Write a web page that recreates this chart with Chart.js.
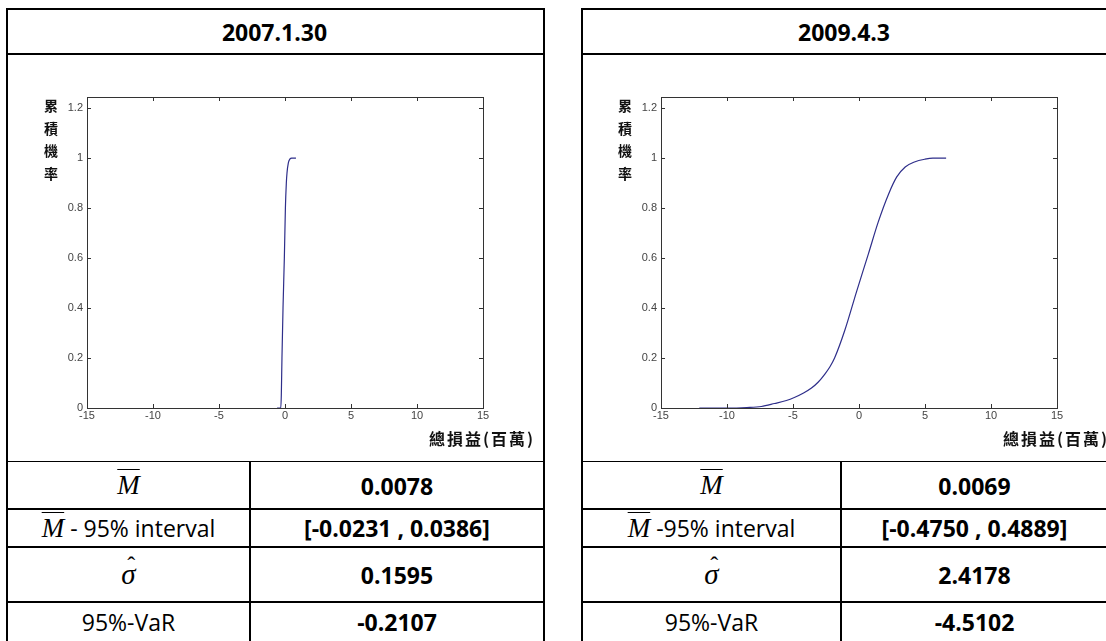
<!DOCTYPE html>
<html>
<head>
<meta charset="utf-8">
<script src="https://cdn.jsdelivr.net/npm/chart.js@4/dist/chart.umd.min.js"></script>
<style>
body { margin:0; background:#fff; width:1106px; height:641px; overflow:hidden; position:relative; }
.ln { position:absolute; background:#000; }
.cell { position:absolute; display:flex; align-items:center; justify-content:center; font-family:"Open Sans","Noto Sans",sans-serif; font-size:23px; color:#000; white-space:nowrap; }
.b { font-weight:700; }
.mm { font-family:"Liberation Serif",serif; font-style:italic; font-size:27px; text-decoration:overline; text-decoration-thickness:1px; }
.sg { position:relative; display:inline-block; font-family:"Liberation Serif",serif; font-style:italic; font-size:29px; }
.sg .hat { position:absolute; left:6px; top:-6px; font-style:normal; font-size:24px; }
.ylab { position:absolute; width:16px; font-family:"Noto Sans CJK TC",sans-serif; font-weight:700; font-size:14px; line-height:22.5px; text-align:center; color:#111; }
.xlab { position:absolute; font-family:"Noto Sans CJK TC",sans-serif; font-weight:700; font-size:16px; letter-spacing:2px; color:#111; white-space:nowrap; }
canvas { position:absolute; }
</style>
</head>
<body>
<canvas id="c2007" width="530" height="404" style="left:10px;top:56px;width:530px;height:404px"></canvas>
<canvas id="c2009" width="530" height="404" style="left:584px;top:56px;width:530px;height:404px"></canvas>
<script>
// axis ticks
var xTicks = [-15, -10, -5, 0, 5, 10, 15];
var yTicks = [0, 0.2, 0.4, 0.6, 0.8, 1, 1.2];

// 2007.1.30 cumulative curve
var x2007 = [-0.6, -0.32, -0.28, -0.23, -0.15, -0.05, 0.03, 0.1, 0.15, 0.25, 0.38, 0.5, 0.83];
var y2007 = [0, 0, 0.05, 0.2, 0.4, 0.6, 0.8, 0.9, 0.94, 0.98, 0.997, 1, 1];

// 2009.4.3 cumulative curve
var x2009 = [-12.1, -10, -8.5, -7.4, -6.4, -5.5, -4.9, -4.2, -3.6, -3.1, -2.6, -2.2, -1.85, -1.08, -0.19, 0.7, 1.46, 2.23, 2.86, 3.5, 4.2, 5.0, 5.6, 6.6];
var y2009 = [0, 0, 0.002, 0.006, 0.018, 0.03, 0.042, 0.06, 0.08, 0.103, 0.135, 0.165, 0.2, 0.31, 0.465, 0.615, 0.745, 0.855, 0.925, 0.965, 0.985, 0.996, 1, 1];

// table text
var titles = ["2007.1.30", "2009.4.3"];
var stat2007 = ["0.0078", "[-0.0231 , 0.0386]", "0.1595", "-0.2107"];
var stat2009 = ["0.0069", "[-0.4750 , 0.4889]", "2.4178", "-4.5102"];
var intervalText = [" - 95% interval", " -95% interval"];

function line(x, y, w, h) {
	var d = document.createElement("div");
	d.className = "ln";
	d.style.left = x + "px"; d.style.top = y + "px";
	d.style.width = w + "px"; d.style.height = h + "px";
	document.body.appendChild(d);
}

function cell(x, y, w, h, html, cls) {
	var d = document.createElement("div");
	d.className = "cell " + (cls || "");
	d.style.left = x + "px"; d.style.top = y + "px";
	d.style.width = w + "px"; d.style.height = h + "px";
	d.innerHTML = html;
	document.body.appendChild(d);
}

function BuildTable(left, right, mid, t, stats) {
	var rows = [461, 508, 546, 601, 641];
	line(left, 8, right - left + 2, 2);
	line(left, 53, right - left + 2, 2);
	line(left, 461, right - left + 2, 1);
	line(left, 508, right - left + 2, 2);
	line(left, 546, right - left + 2, 2);
	line(left, 601, right - left + 2, 2);
	line(left, 8, 2, 633);
	line(right, 8, 2, 633);
	line(mid, 461, 2, 180);
	cell(left, 10, right - left, 43, titles[t], "b");
	var labels = [
		'<span class="mm">M</span>',
		'<span class="mm">M</span><span>' + intervalText[t].replace(/ /g, "&nbsp;") + '</span>',
		'<span class="sg">&sigma;<span class="hat">&#710;</span></span>',
		'95%-VaR'
	];
	for (var i = 0; i < 4; i++) {
		var top = rows[i] + 2, h = rows[i + 1] - rows[i] - 2;
		cell(left + 2, top, mid - left - 2, h, labels[i]);
		cell(mid + 2, top, right - mid - 2, h, stats[i], "b");
	}
}

function AxisLabels(axLeft, axRight) {
	var y = document.createElement("div");
	y.className = "ylab";
	y.style.left = (axLeft - 44) + "px";
	y.style.top = "94px";
	y.textContent = "累積機率";
	document.body.appendChild(y);
	var x = document.createElement("div");
	x.className = "xlab";
	x.style.left = (axRight - 54) + "px";
	x.style.top = "426px";
	x.textContent = "總損益(百萬)";
	document.body.appendChild(x);
}

BuildTable(6, 543, 249, 0, stat2007);
BuildTable(581, 1107, 840, 1, stat2009);
AxisLabels(87, 483);
AxisLabels(661, 1057);

// box round the plot with inward ticks on all four sides
var framePlugin = {
	id: "frame",
	afterDraw: function(chart) {
		var ctx = chart.ctx, a = chart.chartArea;
		var xs = chart.scales.x, ys = chart.scales.y;
		ctx.save();
		ctx.strokeStyle = "#333";
		ctx.lineWidth = 1;
		ctx.strokeRect(Math.round(a.left) + 0.5, Math.round(a.top) + 0.5, Math.round(a.right - a.left), Math.round(a.bottom - a.top));
		ctx.beginPath();
		xTicks.forEach(function(v) {
			var px = Math.round(xs.getPixelForValue(v)) + 0.5;
			ctx.moveTo(px, a.bottom); ctx.lineTo(px, a.bottom - 4);
			ctx.moveTo(px, a.top); ctx.lineTo(px, a.top + 4);
		});
		yTicks.forEach(function(v) {
			var py = Math.round(ys.getPixelForValue(v)) + 0.5;
			ctx.moveTo(a.left, py); ctx.lineTo(a.left + 4, py);
			ctx.moveTo(a.right, py); ctx.lineTo(a.right - 4, py);
		});
		ctx.stroke();
		ctx.restore();
	}
};

function ShowCdfChart(id, xs, ys) {
	var pts = xs.map(function(v, i) { return {x: v, y: ys[i]}; });
	new Chart(document.getElementById(id), {
		type: "line",
		data: {
			datasets: [{
				data: pts,
				borderColor: "#2e2e8a",
				borderWidth: 1.2,
				pointRadius: 0,
				cubicInterpolationMode: "monotone",
				fill: false
			}]
		},
		options: {
			responsive: false,
			animation: false,
			layout: { padding: { left: 37, right: 57, top: 41, bottom: 32 } },
			plugins: { legend: { display: false }, tooltip: { enabled: false } },
			scales: {
				x: {
					type: "linear", min: -15, max: 15,
					grid: { display: false, drawTicks: false },
					border: { display: false },
					afterBuildTicks: function(s) { s.ticks = xTicks.map(function(v) { return {value: v}; }); },
					afterFit: function(s) { s.height = 20; },
					ticks: { padding: 1, color: "#444", font: { family: "Liberation Sans", size: 11 }, maxRotation: 0,
						callback: function(v) { return String(v); } }
				},
				y: {
					type: "linear", min: 0, max: 1.245,
					grid: { display: false, drawTicks: false },
					border: { display: false },
					afterBuildTicks: function(s) { s.ticks = yTicks.map(function(v) { return {value: v}; }); },
					afterFit: function(s) { s.width = 40; },
					ticks: { padding: 4, color: "#444", font: { family: "Liberation Sans", size: 11 },
						callback: function(v) { return String(v); } }
				}
			}
		},
		plugins: [framePlugin]
	});
}

ShowCdfChart("c2007", x2007, y2007);
ShowCdfChart("c2009", x2009, y2009);
</script>
</body>
</html>
